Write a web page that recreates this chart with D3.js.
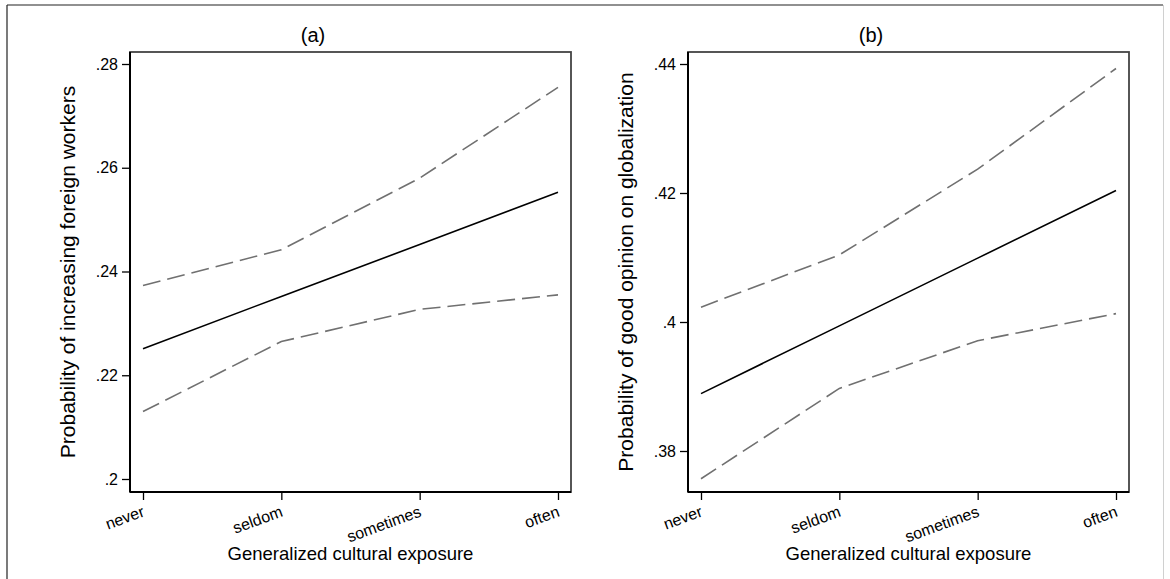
<!DOCTYPE html>
<html>
<head>
<meta charset="utf-8">
<script src="https://cdn.jsdelivr.net/npm/d3@7"></script>
<style>
  body { margin: 0; background: #fff; }
  svg { display: block; }
  text { font-family: "Liberation Sans", Arial, sans-serif; fill: #000; }
</style>
</head>
<body>
<script>
var W = 1170, H = 579;

// exposure levels on the x axis
var categories = ['never', 'seldom', 'sometimes', 'often'];

// panel (a): foreign workers
var aMean  = [0.2251, 0.2352, 0.2452, 0.2553];
var aUpper = [0.2373, 0.2442, 0.2580, 0.2755];
var aLower = [0.2130, 0.2265, 0.2327, 0.2355];
var aTicks = [0.2, 0.22, 0.24, 0.26, 0.28];

// panel (b): globalization
var bMean  = [0.3889, 0.3994, 0.4099, 0.4204];
var bUpper = [0.4023, 0.4104, 0.4237, 0.4393];
var bLower = [0.3757, 0.3897, 0.3971, 0.4013];
var bTicks = [0.38, 0.4, 0.42, 0.44];

var panels = [
  { title: '(a)', ytitle: 'Probability of increasing foreign workers',
    mean: aMean, upper: aUpper, lower: aLower, ticks: aTicks,
    left: 130, right: 571, tMin: 0.2, tMax: 0.28, pMin: 479, pMax: 64, titleX: 313 },
  { title: '(b)', ytitle: 'Probability of good opinion on globalization',
    mean: bMean, upper: bUpper, lower: bLower, ticks: bTicks,
    left: 688, right: 1129, tMin: 0.38, tMax: 0.44, pMin: 451, pMax: 64, titleX: 871 }
];

var plotTop = 52, plotBottom = 492;

var svg = d3.select(document.body)
  .append('svg')
  .attr('width', W).attr('height', H);

// outer frame (cut off at the bottom)
svg.append('line').attr('x1', 7).attr('x2', 7).attr('y1', 5).attr('y2', H)
  .attr('stroke', '#222').attr('stroke-width', 1.2);
svg.append('line').attr('x1', 7).attr('x2', 1163).attr('y1', 5).attr('y2', 5)
  .attr('stroke', '#222').attr('stroke-width', 1.2);
svg.append('line').attr('x1', 1163.5).attr('x2', 1163.5).attr('y1', 5).attr('y2', H)
  .attr('stroke', '#d0d0d0').attr('stroke-width', 1);

var fmt = function(v) { return d3.format('~g')(v).replace(/^0\./, '.'); };

panels.forEach(function(p) {
  var g = svg.append('g');

  var x = d3.scalePoint()
    .domain(categories)
    .range([p.left + 13, p.right - 13]);

  // tick values tMin..tMax sit at pixel rows pMin..pMax
  var y = d3.scaleLinear()
    .domain([p.tMin, p.tMax])
    .range([p.pMin, p.pMax]);

  // plot box
  g.append('rect')
    .attr('x', p.left).attr('y', plotTop)
    .attr('width', p.right - p.left).attr('height', plotBottom - plotTop)
    .attr('fill', 'none').attr('stroke', '#444').attr('stroke-width', 1.8);

  // y axis
  var ya = g.append('g')
    .attr('transform', 'translate(' + p.left + ',0)')
    .call(d3.axisLeft(y).tickValues(p.ticks).tickFormat(fmt)
      .tickSize(8).tickPadding(4));
  ya.select('.domain')
    .attr('d', 'M0,' + plotTop + 'V' + plotBottom)
    .attr('stroke', '#000').attr('stroke-width', 2);
  ya.selectAll('.tick line').attr('stroke', '#000').attr('stroke-width', 1.3);
  ya.selectAll('.tick text')
    .style('font-size', '16px').attr('fill', '#000')
    .style('font-family', '"Liberation Sans", Arial, sans-serif');

  // x axis
  var xa = g.append('g')
    .attr('transform', 'translate(0,' + plotBottom + ')')
    .call(d3.axisBottom(x).tickSize(8).tickPadding(3));
  xa.select('.domain')
    .attr('d', 'M' + p.left + ',0H' + p.right)
    .attr('stroke', '#000').attr('stroke-width', 2);
  xa.selectAll('.tick line').attr('stroke', '#000').attr('stroke-width', 1.3);
  xa.selectAll('.tick text')
    .style('font-size', '16px').attr('fill', '#000')
    .style('font-family', '"Liberation Sans", Arial, sans-serif')
    .attr('text-anchor', 'end')
    .attr('dy', null)
    .attr('y', 0)
    .attr('transform', 'translate(2,24) rotate(-20)');

  // lines
  var line = d3.line()
    .x(function(d, i) { return x(categories[i]); })
    .y(function(d) { return y(d); });

  [p.upper, p.lower].forEach(function(s) {
    g.append('path')
      .datum(s)
      .attr('d', line)
      .attr('fill', 'none')
      .attr('stroke', '#707070')
      .attr('stroke-width', 1.6)
      .attr('stroke-dasharray', '18,7');
  });

  g.append('path')
    .datum(p.mean)
    .attr('d', line)
    .attr('fill', 'none')
    .attr('stroke', '#000')
    .attr('stroke-width', 1.6);

  // titles
  g.append('text')
    .attr('x', p.titleX).attr('y', 42)
    .attr('text-anchor', 'middle')
    .style('font-size', '20px')
    .text(p.title);

  g.append('text')
    .attr('x', (p.left + p.right) / 2).attr('y', 560)
    .attr('text-anchor', 'middle')
    .style('font-size', '18.5px')
    .text('Generalized cultural exposure');

  g.append('text')
    .attr('transform', 'translate(' + (p.left - 55) + ',' + ((plotTop + plotBottom) / 2) + ') rotate(-90)')
    .attr('text-anchor', 'middle')
    .style('font-size', '21px')
    .text(p.ytitle);
});
</script>
</body>
</html>
